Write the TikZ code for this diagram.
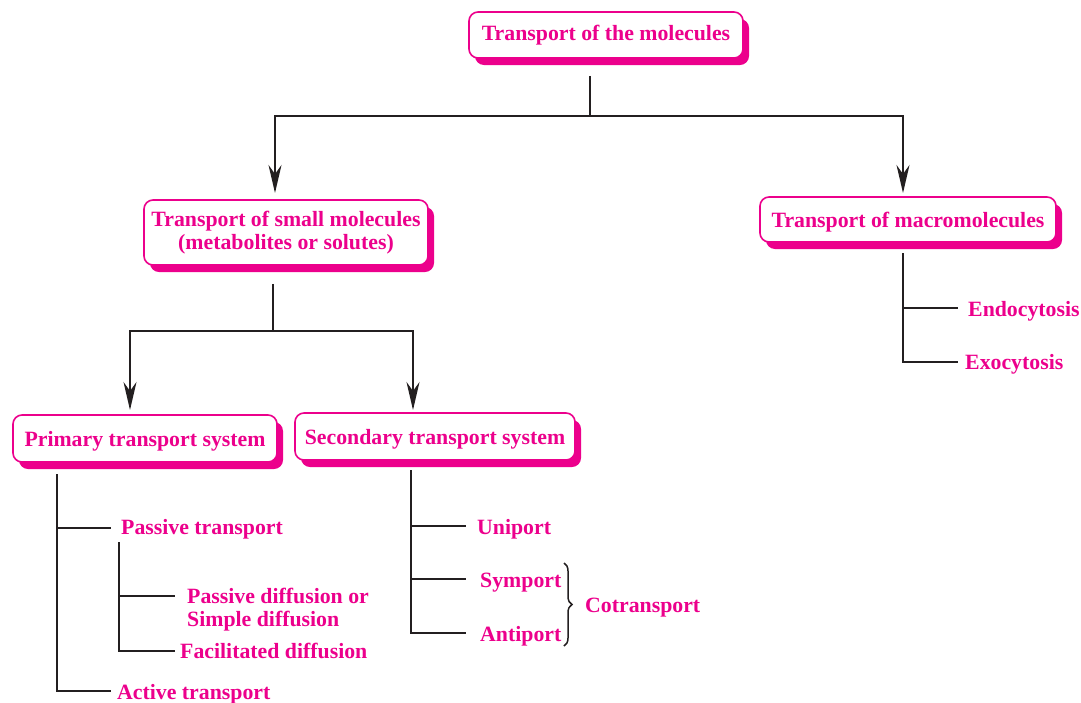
\documentclass[tikz,border=0pt]{standalone}
\usepackage{fontspec}
\setmainfont{Liberation Serif}
\usetikzlibrary{arrows.meta,shadows,decorations.pathreplacing,calc}
\definecolor{rose}{HTML}{EC008C}
\definecolor{ink}{HTML}{231F20}
\begin{document}
\begin{tikzpicture}[x=1pt,y=-1pt,
  font=\fontsize{21.8}{23}\selectfont\bfseries,
  box/.style={draw=rose, line width=1.6pt, fill=white, rounded corners=9pt,
    text=rose, inner sep=0pt, align=center,
    drop shadow={shadow xshift=6pt, shadow yshift=-7pt, fill=rose, opacity=1}},
  lbl/.style={text=rose, inner sep=0pt, anchor=base west, align=left},
  wire/.style={draw=ink, line width=1.8pt},
  arr/.style={wire, -{Stealth[length=28pt, width=13pt, inset=9pt]}},
]
\useasboundingbox (0,0) rectangle (1081,702);

% boxes
\node[box, minimum width=274pt, minimum height=46pt] (top) at (606,35) {Transport of the molecules};
\node[box, minimum width=284pt, minimum height=65pt] (small) at (286,232.5) {Transport of small molecules\\(metabolites or solutes)};
\node[box, text depth=0pt, minimum width=296pt, minimum height=45pt] (macro) at (908,219.5) {Transport of macromolecules};
\node[box, text depth=0pt, minimum width=264pt, minimum height=47pt] (prim) at (145,438.5) {Primary transport system};
\node[box, text depth=0pt, minimum width=280pt, minimum height=47pt] (sec) at (435,436.5) {Secondary transport system};

% first split
\coordinate (j1) at (590,116);
\coordinate (t2) at (275,193);
\coordinate (t3) at (903,193);
\draw[wire] (top.south -| j1) ++(0,17) -- (j1);
\draw[arr] (j1) -| (t2);
\draw[arr] (j1) -| (t3);

% second split
\coordinate (j2) at (273,331);
\coordinate (t4) at (130,410);
\coordinate (t5) at (413,410);
\draw[wire] (small.south -| j2) ++(0,18) -- (j2);
\draw[arr] (j2) -| (t4);
\draw[arr] (j2) -| (t5);

% macromolecules
\node[lbl] (endo) at (968,316) {Endocytosis};
\node[lbl] (exo) at (965,369) {Exocytosis};
\coordinate (v3) at (903,253);
\coordinate (e1) at (958,308);
\coordinate (e2) at (958,362);
\draw[wire] (v3) |- (e2);
\draw[wire] (v3 |- e1) -- (e1);

% primary transport
\node[lbl] (pass) at (121,534) {Passive transport};
\node[lbl] (act) at (117,699) {Active transport};
\coordinate (v4) at (57,474);
\coordinate (p1) at (111,528);
\coordinate (p2) at (111,691);
\draw[wire] (v4) |- (p2);
\draw[wire] (v4 |- p1) -- (p1);

% base anchor of a two-line label sits on its last line
\node[lbl] (pdiff) at (187,626) {Passive diffusion or\\Simple diffusion};
\node[lbl] (fac) at (180,658) {Facilitated diffusion};
\coordinate (v5) at (119,542);
\coordinate (q1) at (175,596);
\coordinate (q2) at (175,651);
\draw[wire] (v5) |- (q2);
\draw[wire] (v5 |- q1) -- (q1);

% secondary transport
\node[lbl] (uni) at (477,534) {Uniport};
\node[lbl] (sym) at (480,587) {Symport};
\node[lbl] (anti) at (480,641) {Antiport};
\coordinate (v6) at (411,470);
\coordinate (s1) at (466,526);
\coordinate (s2) at (466,579);
\coordinate (s3) at (466,633);
\draw[wire] (v6) |- (s3);
\draw[wire] (v6 |- s1) -- (s1);
\draw[wire] (v6 |- s2) -- (s2);

\coordinate (b1) at (564,563);
\coordinate (b2) at (564,646);
\draw[wire, line width=1.5pt, decorate, decoration={brace, amplitude=8pt}] (b1) -- (b2);
\node[lbl] (cot) at (585,612) {Cotransport};
\end{tikzpicture}
\end{document}
